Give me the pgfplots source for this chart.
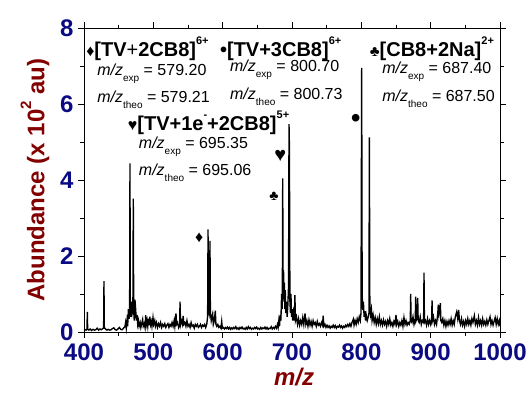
\documentclass[border=0pt]{standalone}
\usepackage{pgfplots}
\pgfplotsset{compat=1.18}
\usepackage{fontspec}
\setmainfont{Liberation Sans}
\definecolor{navyb}{RGB}{10,10,130}
\definecolor{dred}{RGB}{130,0,0}
\newcommand{\supr}[1]{\raisebox{0.62em}{\fontsize{11}{11}\selectfont\bfseries #1}}
\newcommand{\mz}[2]{{\fontsize{16}{16}\selectfont\textit{m/z}\raisebox{-0.38em}{\fontsize{10}{10}\selectfont #1} = #2}}
\begin{document}
\begin{tikzpicture}
\begin{axis}[
  scale only axis, width=416pt, height=304pt,
  xmin=400, xmax=1000, ymin=0, ymax=8,
  xtick={400,500,...,1000}, ytick={0,2,...,8},
  minor tick num=1,
  tick align=outside,
  major tick length=6pt, minor tick length=3.5pt,
  axis line style={line width=0.8pt}, every tick/.style={line width=0.8pt,black},
  clip=false,
  /pgf/number format/assume math mode=true,
  /pgf/number format/1000 sep={},
  ticklabel style={font=\fontsize{24}{24}\selectfont\bfseries, text=navyb},
  xticklabel style={yshift=-2pt},
  yticklabel style={xshift=-1pt},
  xlabel={\textit{m/z}},
  xlabel style={font=\fontsize{24}{24}\selectfont\bfseries, text=dred, at={(axis description cs:0.505,-0.148)}, anchor=center},
  ylabel={Abundance (x 10\raisebox{0.55em}{\fontsize{15}{15}\selectfont 2} au)},
  ylabel style={font=\fontsize{24}{24}\selectfont\bfseries, text=dred, at={(axis description cs:-0.118,0.5)}, anchor=center},
]
\coordinate (O) at (rel axis cs:0,0);
\addplot[black, line width=1.35pt, line join=miter] coordinates {
(400,0.04)(402,0.06)(403,0.05)(404.3,0.08)(404.8,0.53)(405.3,0.07)(407,0.05)(409,0.08)(411,0.04)(413,0.07)(415,0.05)(417,0.06)(419,0.1)(421,0.05)(423,0.08)(425,0.06)(427,0.09)(428.3,0.1)(428.8,1.34)(429.3,0.12)(431,0.08)(433,0.05)(435,0.07)(437,0.05)(439,0.06)(441,0.09)(443,0.11)(445,0.06)(447,0.05)(449,0.08)(451,0.12)(453,0.07)(455,0.06)(457,0.1)(459,0.14)(460,0.25)(461,0.1)(462,0.3)(463,0.15)(464,0.6)(465,0.35)(465.8,0.5)(466.3,4.44)(466.8,0.7)(467.5,0.4)(468.5,0.8)(469.5,0.5)(470.5,0.6)(471.1,3.51)(471.7,0.55)(472.5,0.3)(473.5,0.85)(474.5,0.6)(475.5,0.3)(476.5,0.45)(477.5,0.2)(478.5,0.3)(479.5,0.15)
(481,0.25)(482,0.12)(483,0.2)(484.6,0.33)(485.5,0.15)(487,0.22)(488,0.12)(489,0.44)(490,0.2)(491,0.3)(492,0.15)(493,0.35)(494,0.18)(495,0.4)(496,0.2)(497,0.28)(498,0.15)(499.5,0.38)(500.5,0.2)(502,0.3)(503,0.15)(504.5,0.25)(506,0.12)(507.5,0.22)(509,0.15)(510.5,0.25)(512,0.12)(513.5,0.2)(515,0.15)(516.5,0.22)(518,0.12)(519.5,0.18)(521,0.22)(522.5,0.12)(524,0.2)(525.5,0.15)(527,0.25)(528.5,0.15)(530,0.3)(531,0.15)(532.7,0.49)(533.5,0.2)(535,0.25)(536.5,0.12)(538,0.2)(538.5,0.8)(539.3,0.2)(540.5,0.3)(542,0.2)(543,0.42)(544,0.2)(545.5,0.25)(547,0.15)(548.5,0.3)(550,0.15)(551.5,0.2)(553,0.12)(554.5,0.25)(556,0.15)(557.5,0.18)(559,0.1)(560.5,0.2)(562,0.15)(563.5,0.2)(565,0.12)(566.5,0.15)(568,0.2)(569.5,0.12)(571,0.18)(572.5,0.15)(574,0.2)(575.5,0.12)(577,0.2)(578.3,0.4)(578.9,2.70)(579.5,0.6)(580.5,0.5)(581.2,0.8)(581.7,2.40)(582.3,0.5)(583.5,0.3)(584.5,0.4)(585.6,0.48)(586.5,0.2)(588,0.3)(589.4,0.56)(590.3,0.2)(591.5,0.15)(593,0.2)(594.5,0.12)(596,0.15)(597.5,0.1)(598.6,0.28)(599.5,0.1)
(601,0.12)(602.5,0.08)(604,0.12)(605.5,0.09)(607,0.13)(608.5,0.08)(610,0.12)(611.5,0.07)(613,0.11)(614.5,0.08)(616,0.12)(617.5,0.09)(619,0.14)(620.5,0.08)(622,0.11)(623.5,0.07)(625,0.12)(626.5,0.09)(628,0.13)(629.5,0.08)(631,0.1)(632.5,0.07)(634,0.12)(635.5,0.08)(637,0.14)(638.5,0.09)(640,0.12)(641.5,0.07)(643,0.1)(644.5,0.08)(646,0.12)(647.5,0.09)(649,0.13)(650.5,0.08)(652,0.1)(653.5,0.07)(655,0.12)(656.5,0.08)(658,0.11)(659.5,0.09)(661,0.13)(662.5,0.08)(664,0.12)(665.5,0.07)(667,0.1)(668.5,0.09)(670,0.14)(671.5,0.08)(673,0.12)(674.5,0.09)(676,0.15)(677.5,0.1)(679,0.2)(680,0.12)
(681,0.3)(682,0.15)(683,0.45)(684,0.3)(685,1.0)(686,0.6)(686.6,4.04)(687.2,1.2)(687.8,1.63)(688.4,0.8)(689,1.3)(689.6,0.6)(690.3,1.1)(691,0.5)(692,0.8)(693,0.4)(694,0.7)(695,1.2)(695.7,5.47)(696.3,4.88)(697,0.8)(697.8,0.5)(698.5,1.0)(699.3,0.4)(700.2,0.6)(701,0.3)(702,0.5)(703.3,0.3)(704.2,0.97)(705,0.3)
(706.5,0.4)(708,0.2)(709.5,0.35)(711,0.18)(712.5,0.3)(714,0.2)(715.5,0.38)(717,0.2)(718.8,0.49)(720,0.2)(721.5,0.3)(723,0.15)(724.5,0.32)(726,0.18)(727.5,0.28)(729,0.15)(730.5,0.3)(732,0.2)(733.5,0.25)(735,0.15)(736.5,0.28)(738,0.18)(739.5,0.22)(741,0.15)(742.5,0.25)(744,0.18)(745,0.43)(746,0.15)(747.5,0.2)(749,0.12)(750.5,0.18)(752,0.12)(753.5,0.16)(755,0.1)(756.5,0.15)(758,0.12)(759.5,0.18)(761,0.12)(762.5,0.17)(764,0.1)(765.5,0.15)(767,0.13)(768.5,0.18)(770,0.12)(771.5,0.16)(773,0.1)(774.5,0.15)(776,0.12)(777.5,0.18)(779,0.14)(780.5,0.2)(782,0.15)(783.5,0.22)(785,0.15)(786.5,0.25)(788.5,0.34)(789.5,0.18)(791,0.3)(792.5,0.2)(794,0.35)(795.5,0.25)(797,0.4)(798.5,0.3)(799.5,0.5)(800.5,6.95)(801.2,1.0)(802,0.58)(803,0.8)(804,0.4)(805,0.55)(806,0.3)(807,0.45)(808.5,0.3)(810,0.4)(811,0.5)(811.6,5.12)(812.3,0.6)(813.3,0.45)(814.5,0.6)(815.5,0.3)(817,0.45)(818.5,0.25)(820,0.38)(821.5,0.2)(823,0.35)(824.5,0.22)(826,0.4)(827.5,0.2)(829,0.3)(830.5,0.18)(832,0.32)(833.5,0.2)(835,0.28)(836.5,0.15)(838,0.3)(839.5,0.2)(841,0.35)(842.5,0.18)(844,0.25)(845.5,0.15)(847,0.28)(848.5,0.2)(850,0.45)(851,0.2)(852.5,0.28)(854,0.15)(855.5,0.25)(857,0.18)(858.5,0.3)(860,0.15)(861.5,0.38)(863,0.2)(864.5,0.3)(866,0.18)(867.5,0.25)(869,0.2)(870.6,0.3)(871.2,1.0)(871.8,0.3)(873,0.25)(874.5,0.4)(876,0.2)(877.8,0.35)(878.4,0.93)(879,0.3)(880.7,0.4)(881.3,0.9)(882,0.3)(883.5,0.25)(885,0.4)(886.5,0.2)(888,0.3)(889.8,0.25)(890.4,1.56)(891,0.25)(892.5,0.3)(894,0.18)(895.5,0.35)(897,0.2)(898.5,0.3)(900,0.2)(901.4,0.35)(902,0.83)(902.6,0.3)(904,0.4)(905.5,0.2)(907,0.3)(908.5,0.2)(910.3,0.5)(911,0.72)(912,0.45)(913.3,0.6)(914,0.76)(914.7,0.3)(916,0.25)(917.5,0.35)(919,0.18)(920.5,0.3)(922,0.15)(923.5,0.28)(925,0.18)(926.5,0.3)(928,0.2)(929.5,0.35)(931,0.18)(932.5,0.3)(934,0.2)(935.5,0.4)(937.5,0.53)(939,0.35)(940.4,0.58)(941.5,0.3)(943,0.2)(944.5,0.35)(946,0.18)(947.5,0.28)(949,0.15)(950.5,0.3)(952,0.2)(953.5,0.35)(955,0.2)(956.5,0.3)(958,0.18)(959.5,0.35)(961,0.25)(963,0.43)(964.5,0.2)(966,0.3)(967.5,0.18)(969,0.38)(970.5,0.2)(972,0.3)(973.5,0.18)(975,0.35)(976.5,0.2)(978,0.28)(979.5,0.18)(981,0.32)(982.5,0.2)(984,0.3)(985.6,0.4)(987,0.2)(988.5,0.3)(990,0.18)(991.5,0.28)(993,0.38)(994.5,0.2)(996,0.35)(997.5,0.2)(999,0.3)(1000,0.15)
};
% annotations
\node[anchor=west, inner sep=0pt, font=\fontsize{20}{20}\selectfont\bfseries] at (axis cs:403,7.45) {{\fontsize{16}{16}\selectfont ♦}[TV{\mdseries+}2CB8]\supr{6+}};
\node[anchor=west, inner sep=0pt] at (axis cs:419,6.8) {\mz{exp}{579.20}};
\node[anchor=west, inner sep=0pt] at (axis cs:419,6.1) {\mz{theo}{579.21}};
\node[anchor=west, inner sep=0pt, font=\fontsize{20}{20}\selectfont\bfseries] at (axis cs:596,7.45) {{\fontsize{20}{20}\selectfont •}[TV+3CB8]\supr{6+}};
\node[anchor=west, inner sep=0pt] at (axis cs:610.5,6.9) {\mz{exp}{800.70}};
\node[anchor=west, inner sep=0pt] at (axis cs:610.5,6.2) {\mz{theo}{800.73}};
\node[anchor=west, inner sep=0pt, font=\fontsize{20}{20}\selectfont\bfseries] at (axis cs:812,7.45) {{\fontsize{15}{15}\selectfont ♣}[CB8+2Na]\supr{2+}};
\node[anchor=west, inner sep=0pt] at (axis cs:830,6.85) {\mz{exp}{687.40}};
\node[anchor=west, inner sep=0pt] at (axis cs:830,6.15) {\mz{theo}{687.50}};
\node[anchor=west, inner sep=0pt, font=\fontsize{20}{20}\selectfont\bfseries] at (axis cs:463,5.5) {{\fontsize{16}{16}\selectfont ♥}[TV+1e\supr{-}+2CB8]\supr{5+}};
\node[anchor=west, inner sep=0pt] at (axis cs:479,4.87) {\mz{exp}{695.35}};
\node[anchor=west, inner sep=0pt] at (axis cs:479,4.2) {\mz{theo}{695.06}};
% peak markers
\node[font=\fontsize{16}{16}\selectfont] at (axis cs:566,2.47) {♦};
\node[font=\fontsize{14}{14}\selectfont] at (axis cs:674,3.58) {♣};
\node[font=\fontsize{20}{20}\selectfont] at (axis cs:683,4.63) {♥};
\node[font=\fontsize{28}{28}\selectfont] at (axis cs:792,5.55) {•};
\end{axis}
\pgfresetboundingbox
\path[use as bounding box] (O) ++(-84pt,-60pt) rectangle ++(530pt,392pt);
\end{tikzpicture}
\end{document}
